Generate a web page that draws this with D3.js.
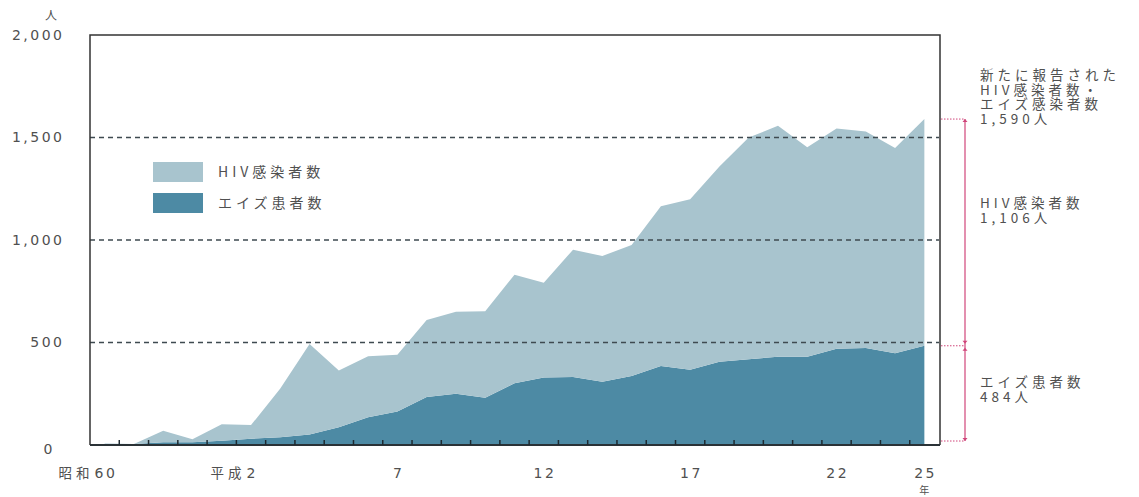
<!DOCTYPE html>
<html>
<head>
<meta charset="utf-8">
<script src="https://cdn.jsdelivr.net/npm/d3@7"></script>
<style>
  body { margin: 0; background: #fff; }
  text { font-family: "Noto Sans CJK JP", "Noto Sans", sans-serif; fill: #505050; }
</style>
</head>
<body>
<script>
var width = 1139,
    height = 497;

// 年（昭和60年〜平成25年）
const years = d3.range(1985, 2014);
// HIV感染者数（新規報告）
const hivValues = [0, 0, 55, 14, 80, 66, 238, 442, 277, 298, 277, 376, 400, 422, 530,
                   462, 621, 614, 640, 780, 832, 952, 1082, 1126, 1021, 1075, 1056, 1002, 1106];
// エイズ患者数（新規報告）
const aidsValues = [6, 5, 14, 14, 21, 31, 38, 51, 86, 135, 163, 234, 250, 231, 301,
                    329, 332, 308, 336, 385, 367, 406, 418, 431, 431, 469, 473, 447, 484];

// 目盛りラベル
const yTicks = [0, 500, 1000, 1500, 2000];
const gridValues = [500, 1000, 1500];
const tickYears = [1985, 1990, 1995, 2000, 2005, 2010, 2013];
const tickPrefixes = ["昭和", "平成", "", "", "", "", ""];
const tickNums = ["60", "2", "7", "12", "17", "22", "25"];

const seriesKeys = ["aids", "hiv"];
const seriesNames = { hiv: "HIV感染者数", aids: "エイズ患者数" };
const seriesColors = { hiv: "#a8c4ce", aids: "#4d8aa4" };

// 右側の注記
const noteTotal = ["新たに報告された", "HIV感染者数・", "エイズ感染者数", "1,590人"];
const noteHiv = ["HIV感染者数", "1,106人"];
const noteAids = ["エイズ患者数", "484人"];

var table = years.map((yr, i) => ({ year: yr, hiv: hivValues[i], aids: aidsValues[i] }));

var svg = d3.select("body").append("svg")
    .attr("width", width)
    .attr("height", height);

var plotLeft = 90, plotRight = 939, plotTop = 35, plotBottom = 445;
var numFont = "'DejaVu Sans', sans-serif";
var numLs = 2.5;    // 数字の字間
var jpLs = 4;       // 和文の字間

var x = d3.scaleBand().domain(years).range([plotLeft, plotRight]);
var cx = yr => x(yr) + x.bandwidth() / 2;
var y = d3.scaleLinear().domain([0, 2000]).range([plotBottom, plotTop]);

var stacked = d3.stack().keys(seriesKeys)(table);

var area = d3.area()
    .x(d => cx(d.data.year))
    .y0(d => y(d[0]))
    .y1(d => y(d[1]));

svg.append("g").selectAll("path")
  .data(stacked)
  .join("path")
    .attr("d", area)
    .attr("fill", d => seriesColors[d.key]);

// 点線のグリッド
svg.append("g").selectAll("line")
  .data(gridValues)
  .join("line")
    .attr("x1", plotLeft).attr("x2", plotRight)
    .attr("y1", d => y(d)).attr("y2", d => y(d))
    .attr("stroke", "#3e4a50")
    .attr("stroke-width", 1.3)
    .attr("stroke-dasharray", "5,4");

// 枠
svg.append("path")
    .attr("d", `M${plotLeft},${plotBottom}V${plotTop}H${plotRight + 1}V${plotBottom}`)
    .attr("fill", "none")
    .attr("stroke", "#333")
    .attr("stroke-width", 1.5);
svg.append("line")
    .attr("x1", plotLeft).attr("x2", plotRight + 1)
    .attr("y1", plotBottom).attr("y2", plotBottom)
    .attr("stroke", "#2a3236")
    .attr("stroke-width", 2);

// 年の区切り目盛り
svg.append("g").selectAll("line")
  .data(years.slice(1))
  .join("line")
    .attr("x1", d => x(d)).attr("x2", d => x(d))
    .attr("y1", plotBottom).attr("y2", plotBottom - 5)
    .attr("stroke", "#1e2a30")
    .attr("stroke-width", 1.5);

// Y軸
var yAxis = svg.append("g")
    .attr("transform", `translate(${plotLeft},0)`)
    .call(d3.axisLeft(y).tickValues(yTicks).tickFormat(d3.format(",")).tickSize(0).tickPadding(28 - numLs));
yAxis.select(".domain").remove();
yAxis.selectAll("text")
    .style("font-family", numFont)
    .style("font-size", "14px")
    .style("letter-spacing", numLs + "px")
    .attr("fill", "#505050");
// 「0」は少し内側・下寄り
yAxis.selectAll(".tick").filter(d => d === 0).select("text")
    .attr("text-anchor", "middle")
    .attr("x", 48 - plotLeft + numLs / 2)
    .attr("dy", "0.6em");

svg.append("text")
    .attr("x", 51).attr("y", 20)
    .attr("text-anchor", "middle")
    .style("font-size", "12px")
    .text("人");

// X軸ラベル
var xl = svg.append("g").selectAll("g")
  .data(tickYears)
  .join("g");
xl.append("text")
    .attr("class", "num")
    .attr("x", d => cx(d) + numLs / 2)
    .attr("y", 478)
    .attr("text-anchor", "middle")
    .style("font-family", numFont)
    .style("font-size", "14px")
    .style("letter-spacing", numLs + "px")
    .text((d, i) => tickNums[i]);
xl.each(function (d, i) {
    if (!tickPrefixes[i]) return;
    var w = d3.select(this).select(".num").node().getComputedTextLength() - numLs;
    d3.select(this).append("text")
        .attr("x", cx(d) - w / 2 - 1)
        .attr("y", 478)
        .attr("text-anchor", "end")
        .style("font-size", "13.5px")
        .style("letter-spacing", jpLs + "px")
        .text(tickPrefixes[i]);
});
svg.append("text")
    .attr("x", cx(2013)).attr("y", 494)
    .attr("text-anchor", "middle")
    .style("font-size", "10px")
    .text("年");

// 凡例
var legend = svg.append("g").selectAll("g")
  .data(["hiv", "aids"])
  .join("g")
    .attr("transform", (d, i) => `translate(153,${162 + i * 31})`);
legend.append("rect")
    .attr("width", 50).attr("height", 20)
    .attr("fill", d => seriesColors[d]);
legend.append("text")
    .attr("x", 65).attr("y", 15)
    .style("font-size", "14px")
    .style("letter-spacing", jpLs + "px")
    .text(d => seriesNames[d]);

// 右側の注記（括弧）
var noteColor = "#d0457a";
var total2013 = hivValues[hivValues.length - 1] + aidsValues[aidsValues.length - 1];
var aids2013 = aidsValues[aidsValues.length - 1];
var bx = 965;
svg.append("g").selectAll("line")
  .data([total2013, aids2013, 0])
  .join("line")
    .attr("x1", plotRight + 2).attr("x2", bx)
    .attr("y1", d => y(d) - (d === 0 ? 4 : 0)).attr("y2", d => y(d) - (d === 0 ? 4 : 0))
    .attr("stroke", noteColor)
    .attr("stroke-width", 1)
    .attr("stroke-dasharray", "1.5,1.5");
svg.append("line")
    .attr("x1", bx).attr("x2", bx)
    .attr("y1", y(total2013)).attr("y2", y(0) - 4)
    .attr("stroke", noteColor)
    .attr("stroke-width", 1.2);
var marks = [
  { v: total2013, dir: -1, off: 0 },
  { v: aids2013, dir: 1, off: -2 },
  { v: aids2013, dir: -1, off: 2 },
  { v: 0, dir: 1, off: -4 }
];
svg.append("g").selectAll("path")
  .data(marks)
  .join("path")
    .attr("d", d => {
      var yy = y(d.v) + d.off;
      return `M${bx - 2.5},${yy - d.dir * 3}L${bx},${yy}L${bx + 2.5},${yy - d.dir * 3}Z`;
    })
    .attr("fill", noteColor);

function noteBlock(lines, y0) {
  svg.append("text")
      .attr("x", 980).attr("y", y0)
      .style("font-size", "13.5px")
      .style("letter-spacing", jpLs + "px")
      .selectAll("tspan")
      .data(lines)
      .join("tspan")
        .attr("x", 980)
        .attr("dy", (d, i) => i === 0 ? 0 : 14.5)
        .text(d => d);
}
noteBlock(noteTotal, 80);
noteBlock(noteHiv, 208);
noteBlock(noteAids, 387);
</script>
</body>
</html>
